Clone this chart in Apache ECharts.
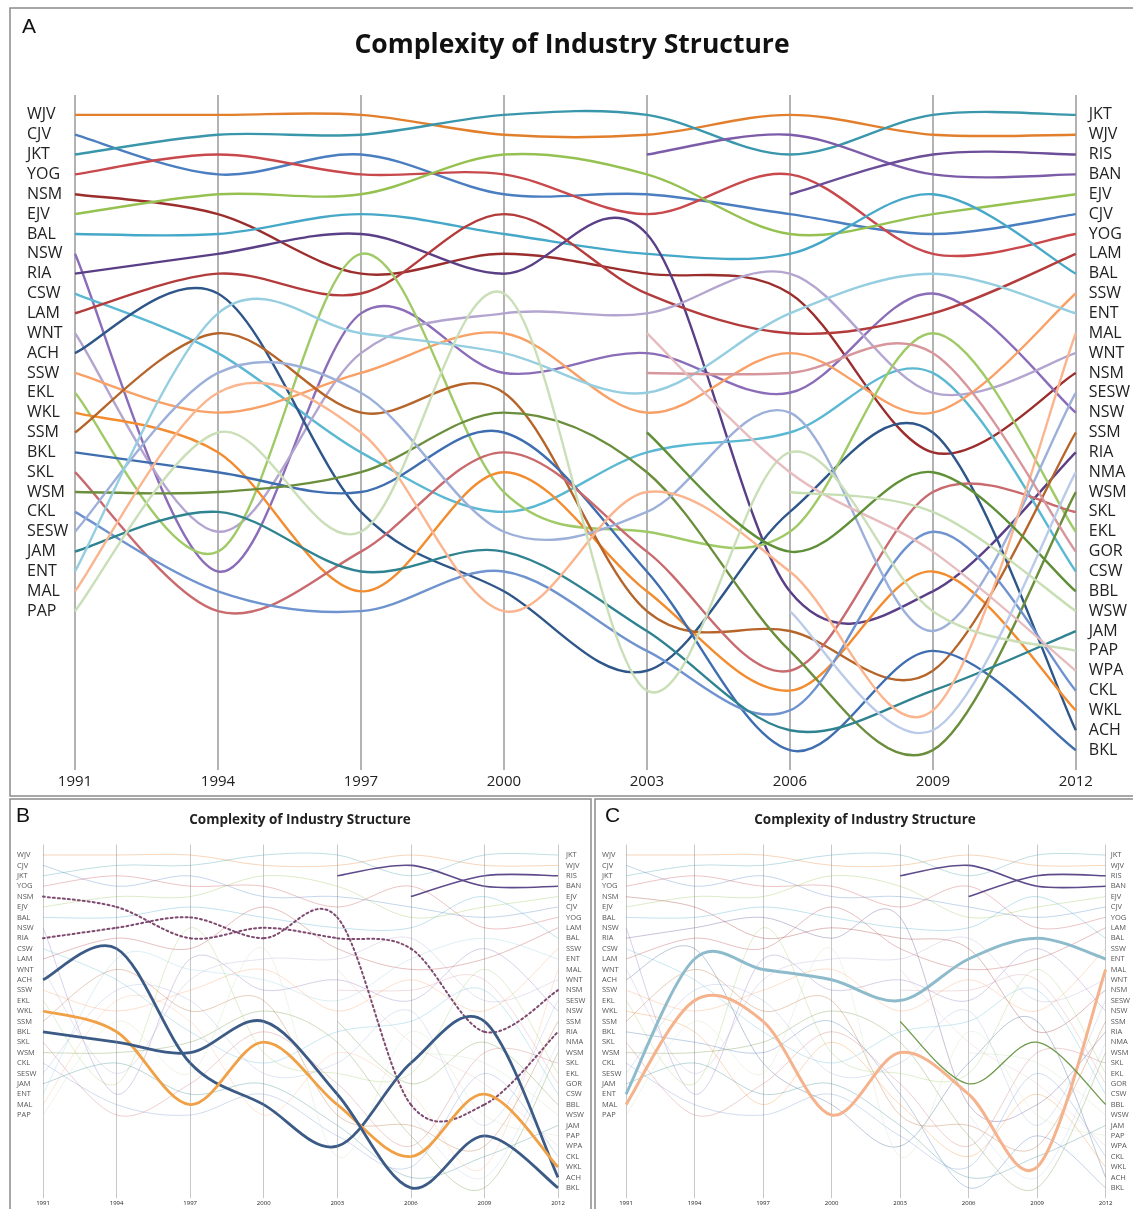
<!DOCTYPE html>
<html><head><meta charset="utf-8">
<script src="https://cdn.jsdelivr.net/npm/echarts@6/dist/echarts.min.js"></script>
<style>html,body{margin:0;padding:0;background:#fff}#c{width:1133px;height:1209px}</style>
</head><body><div id="c"></div>
<script>
// ---- data ----
const years = ['1991','1994','1997','2000','2003','2006','2009','2012'];
const leftLabels = ['WJV','CJV','JKT','YOG','NSM','EJV','BAL','NSW','RIA','CSW','LAM','WNT','ACH','SSW','EKL','WKL','SSM','BKL','SKL','WSM','CKL','SESW','JAM','ENT','MAL','PAP'];
const rightLabels = ['JKT','WJV','RIS','BAN','EJV','CJV','YOG','LAM','BAL','SSW','ENT','MAL','WNT','NSM','SESW','NSW','SSM','RIA','NMA','WSM','SKL','EKL','GOR','CSW','BBL','WSW','JAM','PAP','WPA','CKL','WKL','ACH','BKL'];
// rank of each industry per year (null = not present)
const WJV  = [1, 1, 1, 2, 2, 1, 2, 2];
const CJV  = [2, 4, 3, 5, 5, 6, 7, 6];
const JKT  = [3, 2, 2, 1, 1, 3, 1, 1];
const YOG  = [4, 3, 4, 4, 6, 4, 8, 7];
const NSM  = [5, 6, 9, 8, 9, 10, 18, 14];
const EJV  = [6, 5, 5, 3, 4, 7, 6, 5];
const BAL  = [7, 7, 6, 7, 8, 8, 5, 9];
const NSW  = [8, 24, 11, 14, 13, 15, 10, 16];
const RIA  = [9, 8, 7, 9, 7, 25, 25, 18];
const CSW  = [10, 13, 18, 21, 18, 17, 14, 24];
const LAM  = [11, 9, 10, 6, 10, 12, 11, 8];
const WNT  = [12, 22, 13, 11, 11, 9, 15, 13];
const ACH  = [13, 10, 21, 25, 29, 21, 17, 32];
const SSW  = [14, 16, 14, 12, 16, 13, 16, 10];
const EKL  = [15, 23, 8, 20, 22, 22, 12, 22];
const WKL  = [16, 18, 25, 19, 25, 30, 24, 31];
const SSM  = [17, 12, 16, 15, 26, 27, 29, 17];
const BKL  = [18, 19, 20, 17, 24, 33, 28, 33];
const SKL  = [19, 26, 23, 18, 23, 29, 20, 21];
const WSM  = [20, 20, 19, 16, 19, 28, 33, 20];
const CKL  = [21, 25, 26, 24, 28, 31, 22, 30];
const SESW = [22, 14, 15, 22, 21, 16, 27, 15];
const JAM  = [23, 21, 24, 23, 27, 32, 30, 27];
const ENT  = [24, 11, 12, 13, 15, 11, 9, 11];
const MAL  = [25, 15, 17, 26, 20, 24, 31, 12];
const PAP  = [26, 17, 22, 10, 30, 18, 26, 28];
const RIS  = [null, null, null, null, 3, 2, 4, 4];
const BAN  = [null, null, null, null, null, 5, 3, 3];
const GOR  = [null, null, null, null, 14, 14, 13, 23];
const WPA  = [null, null, null, null, 12, 19, 23, 29];
const BBL  = [null, null, null, null, 17, 23, 19, 25];
const NMA  = [null, null, null, null, null, 26, 32, 19];
const WSW  = [null, null, null, null, null, 20, 21, 26];

const ranks = {WJV,CJV,JKT,YOG,NSM,EJV,BAL,NSW,RIA,CSW,LAM,WNT,ACH,SSW,EKL,WKL,SSM,BKL,SKL,WSM,CKL,SESW,JAM,ENT,MAL,PAP,RIS,BAN,GOR,WPA,BBL,NMA,WSW};
const titleText = 'Complexity of Industry Structure';

// ---- styles ----
const colors = {
  WJV:'#E27F2D', CJV:'#4A7EC0', JKT:'#3A97AB', YOG:'#C8484C', NSM:'#9B2D2D', EJV:'#95C151',
  BAL:'#45A8C8', NSW:'#8A6CB8', RIA:'#5A3F87', CSW:'#5BB8D2', LAM:'#B33B3B', WNT:'#B3A5CF',
  ACH:'#2E5689', SSW:'#F8A065', EKL:'#9FCA66', WKL:'#F28C2E', SSM:'#B5652A', BKL:'#3E6DB0',
  SKL:'#C96A6E', WSM:'#6A8E3B', CKL:'#6F93CE', SESW:'#9CB0DA', JAM:'#2F8390', ENT:'#94CEE0',
  MAL:'#FAB58F', PAP:'#CADFB8', RIS:'#7C5CA8', BAN:'#6B4D98', GOR:'#D7969C', WPA:'#E6BCBF',
  BBL:'#5F8F36', NMA:'#BACBEA', WSW:'#C5DEB2'
};
const FONT = '"Open Sans", "Liberation Sans", sans-serif';

const panels = [
  {grid:{left:75, top:95, width:1001, height:675}, fs:16, lm:48, rm:13, xm:4, gridColor:'#9a9a9a', gw:1.5},
  {grid:{left:43, top:844.6, width:515, height:353.6}, fs:7.5, lm:26, rm:8, xm:2, gridColor:'#c8c8c8', gw:1},
  {grid:{left:626, top:844.6, width:481, height:353.6}, fs:7.5, lm:24, rm:5, xm:2, gridColor:'#c8c8c8', gw:1}
];
const highlightB = {
  NSM:{color:'#7E4A70', width:2, dash:[2,3]},
  RIA:{color:'#7E4A70', width:2, dash:[2,3]},
  ACH:{color:'#3B5A85', width:2.8},
  BKL:{color:'#3B5A85', width:2.8},
  WKL:{color:'#F0A045', width:2.8},
  RIS:{color:'#5E4A8A', width:1.6},
  BAN:{color:'#5E4A8A', width:1.6}
};
const highlightC = {
  ENT:{color:'#8DBBCB', width:3},
  MAL:{color:'#F4B38C', width:3},
  BBL:{color:'#6E9A4A', width:1.3},
  RIS:{color:'#5E4A8A', width:1.6},
  BAN:{color:'#5E4A8A', width:1.6}
};

// smooth (Catmull-Rom) curve drawn through the library's coordinate system
function curveSeries(name, gi, st, z) {
  const pts = ranks[name].map((v, j) => v == null ? null : [j, v]).filter(Boolean);
  return {
    name: name + '_' + gi, type: 'custom', xAxisIndex: gi, yAxisIndex: gi * 2, z: z, silent: true,
    encode: {x: 0, y: 1}, data: pts,
    renderItem: function (params, api) {
      const k = params.dataIndex;
      if (k >= pts.length - 1) return null;
      const p1 = api.coord(pts[k]), p2 = api.coord(pts[k + 1]);
      const p0 = k > 0 ? api.coord(pts[k - 1]) : p1;
      const p3 = k + 2 < pts.length ? api.coord(pts[k + 2]) : p2;
      return {
        type: 'bezierCurve',
        shape: {
          x1: p1[0], y1: p1[1], x2: p2[0], y2: p2[1],
          cpx1: p1[0] + (p2[0] - p0[0]) / 6, cpy1: p1[1] + (p2[1] - p0[1]) / 6,
          cpx2: p2[0] - (p3[0] - p1[0]) / 6, cpy2: p2[1] - (p3[1] - p1[1]) / 6
        },
        style: {fill: null, stroke: st.color, lineWidth: st.width, opacity: st.opacity,
                lineDash: st.dash || null, lineCap: st.dash ? 'round' : 'butt'}
      };
    }
  };
}

const grid = [], xAxis = [], yAxis = [], series = [];
panels.forEach((p, i) => {
  grid.push(p.grid);
  xAxis.push({gridIndex:i, type:'category', data:years, boundaryGap:false,
    axisLine:{show:false}, axisTick:{show:false},
    splitLine:{show:true, interval:0, lineStyle:{color:p.gridColor, width:p.gw}},
    axisLabel:{interval:0, fontSize: i===0?15:6, color:'#222', margin:p.xm, fontFamily:FONT}});
  const yBase = {gridIndex:i, type:'value', min:0, max:34, interval:1, inverse:true,
    axisLine:{show:false}, axisTick:{show:false}, splitLine:{show:false}};
  yAxis.push(Object.assign({}, yBase, {position:'left',
    axisLabel:{formatter:v => leftLabels[v-1] || '', align:'left', margin:p.lm, fontSize:p.fs, color: i===0?'#222':'#555', fontFamily:FONT}}));
  yAxis.push(Object.assign({}, yBase, {position:'right',
    axisLabel:{formatter:v => rightLabels[v-1] || '', align:'left', margin:p.rm, fontSize:p.fs, color: i===0?'#222':'#555', fontFamily:FONT}}));
  Object.keys(ranks).forEach(name => {
    let st = {color:colors[name], width:2.4, opacity:1};
    let z = 2;
    if (i > 0) {
      const h = (i === 1 ? highlightB : highlightC)[name];
      if (h) { st = {color:h.color, width:h.width, dash:h.dash, opacity:1}; z = 5; }
      else { st = {color:colors[name], width:1, opacity:0.32}; }
    }
    series.push(curveSeries(name, i, st, z));
  });
});

const graphic = [
  {type:'rect', shape:{x:10, y:8, width:1135, height:788}, style:{fill:'none', stroke:'#8a8a8a', lineWidth:1.5}, silent:true},
  {type:'rect', shape:{x:10, y:799, width:581, height:420}, style:{fill:'none', stroke:'#8a8a8a', lineWidth:1.5}, silent:true},
  {type:'rect', shape:{x:595, y:799, width:550, height:420}, style:{fill:'none', stroke:'#8a8a8a', lineWidth:1.5}, silent:true},
  {type:'text', x:22, y:17, style:{text:'A', fontSize:21, fontFamily:'"Liberation Sans", Arial', fill:'#111'}},
  {type:'text', x:16, y:806, style:{text:'B', fontSize:21, fontFamily:'"Liberation Sans", Arial', fill:'#111'}},
  {type:'text', x:605, y:806, style:{text:'C', fontSize:21, fontFamily:'"Liberation Sans", Arial', fill:'#111'}},
  {type:'text', x:572, y:45, style:{text:titleText, fontSize:26.5, fontWeight:'bold', fontFamily:FONT, fill:'#111', align:'center', verticalAlign:'middle'}},
  {type:'text', x:300, y:820, style:{text:titleText, fontSize:13.5, fontWeight:'bold', fontFamily:FONT, fill:'#222', align:'center', verticalAlign:'middle'}},
  {type:'text', x:865, y:820, style:{text:titleText, fontSize:13.5, fontWeight:'bold', fontFamily:FONT, fill:'#222', align:'center', verticalAlign:'middle'}}
];

const chart = echarts.init(document.getElementById('c'), null, {renderer:'canvas'});
chart.setOption({animation:false, backgroundColor:'#fff', grid, xAxis, yAxis, series, graphic});
</script></body></html>
